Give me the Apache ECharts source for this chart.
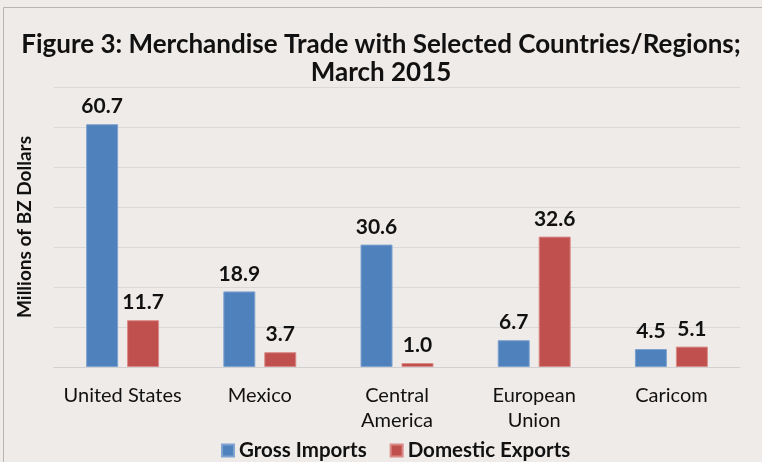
<!DOCTYPE html>
<html><head><meta charset="utf-8">
<script src="https://cdn.jsdelivr.net/npm/echarts@6/dist/echarts.min.js"></script>
<style>html,body{margin:0;padding:0;background:#fff}#c{width:762px;height:462px}</style>
</head><body><div id="c"></div>
<script>
const categories = ['United States', 'Mexico', 'Central\nAmerica', 'European\nUnion', 'Caricom'];
const grossImports = [60.7, 18.9, 30.6, 6.7, 4.5];
const domesticExports = [11.7, 3.7, 1.0, 32.6, 5.1];
const seriesNames = ['Gross Imports', 'Domestic Exports'];
const titleText = 'Figure 3: Merchandise Trade with Selected Countries/Regions;\nMarch 2015';
const yAxisName = 'Millions of BZ Dollars';

const FONT = 'Lato, "Open Sans", sans-serif';
const chart = echarts.init(document.getElementById('c'), null, {renderer: 'canvas'});
const labelCfg = {show: true, position: 'top', distance: 7, fontFamily: FONT, fontWeight: 'bold', fontSize: 21, color: '#111', formatter: p => p.value.toFixed(1)};
chart.setOption({
  backgroundColor: '#EFEBE8',
  animation: false,
  graphic: [{type: 'rect', shape: {x: 3.5, y: 7.5, width: 780, height: 470}, style: {fill: 'none', stroke: '#b5b5b5', lineWidth: 1}, z: 0}],
  title: {text: titleText, left: 'center', top: 26, textStyle: {fontFamily: FONT, fontWeight: 'bold', fontSize: 26, lineHeight: 28, color: '#111'}},
  legend: {top: 435, left: 216, itemWidth: 12, itemHeight: 12, itemGap: 23, icon: 'rect', textStyle: {fontFamily: FONT, fontWeight: 'bold', fontSize: 20.5, color: '#111'}, data: seriesNames},
  grid: {left: 54, right: 22, top: 87, bottom: 95},
  xAxis: {type: 'category', data: categories, axisTick: {show: false}, axisLine: {lineStyle: {color: '#d0d0d0', width: 1}}, axisLabel: {interval: 0, fontFamily: FONT, fontSize: 20, color: '#111', margin: 16, lineHeight: 25}},
  yAxis: {type: 'value', min: 0, max: 70, interval: 10, name: yAxisName, nameLocation: 'middle', nameGap: 20, nameTextStyle: {fontFamily: FONT, fontWeight: 'bold', fontSize: 19, color: '#111'}, axisLabel: {show: false}, axisLine: {show: false}, axisTick: {show: false}, splitLine: {lineStyle: {color: '#d9d9d9', width: 1}}},
  series: [
    {name: seriesNames[0], type: 'bar', data: grossImports, barWidth: 32, barGap: '28%', itemStyle: {color: '#4F81BD', borderColor: '#7fa3d0', borderWidth: 1}, label: labelCfg},
    {name: seriesNames[1], type: 'bar', data: domesticExports, barWidth: 32, itemStyle: {color: '#C0504D', borderColor: '#d98a88', borderWidth: 1}, label: labelCfg}
  ]
});
</script></body></html>
